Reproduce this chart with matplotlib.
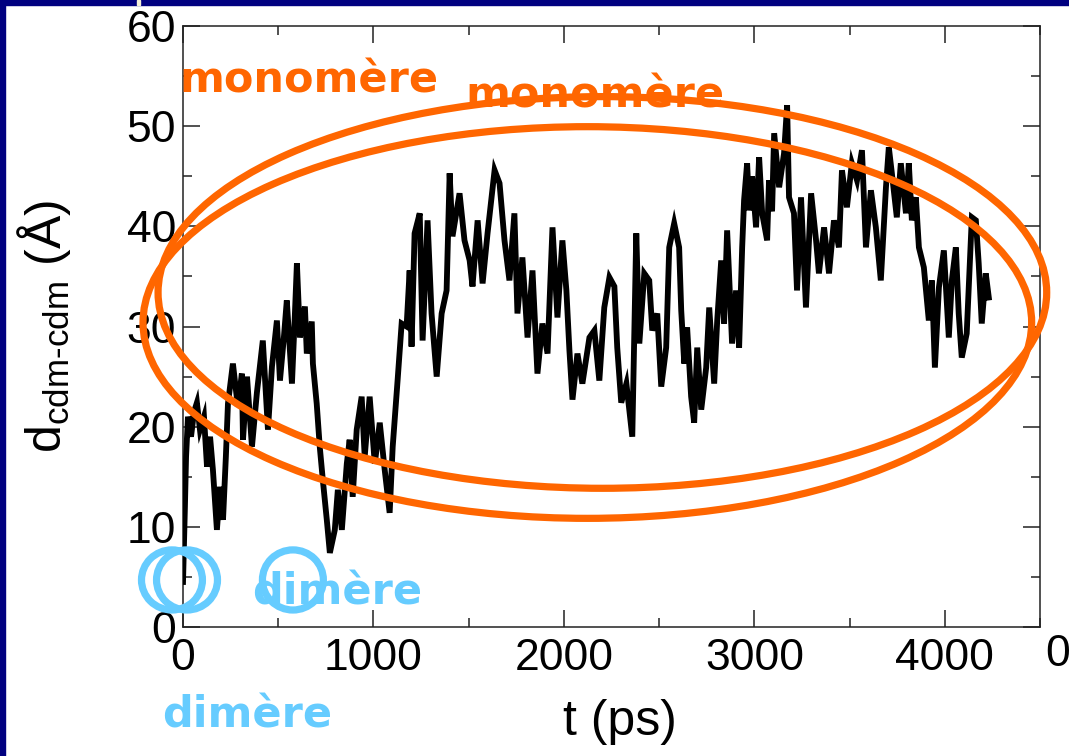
import matplotlib
matplotlib.use('Agg')
import matplotlib.pyplot as plt
from matplotlib.patches import Ellipse, Rectangle
from matplotlib.ticker import MultipleLocator

# centre-of-mass distance between the two chains along the trajectory
t_ps = [0, 10, 16, 26, 42, 58, 73, 89, 110, 126, 142, 157, 178, 194, 210, 225,
        236, 262, 288, 309, 315, 336, 362, 388, 419, 446, 467, 493, 509, 530,
        545, 572, 587, 598, 614, 640, 650, 676, 682, 702, 718, 734, 755, 771,
        797, 813, 834, 860, 875, 891, 912, 938, 954, 980, 1007, 1033, 1059,
        1085, 1101, 1127, 1148, 1174, 1190, 1200, 1216, 1243, 1258, 1284, 1305,
        1332, 1358, 1384, 1400, 1415, 1452, 1478, 1505, 1520, 1547, 1573, 1599,
        1620, 1636, 1662, 1688, 1714, 1740, 1756, 1782, 1809, 1835, 1861, 1887,
        1914, 1940, 1966, 1992, 2013, 2029, 2045, 2071, 2097, 2134, 2160, 2186,
        2212, 2239, 2265, 2280, 2301, 2328, 2343, 2359, 2380, 2396, 2422, 2448,
        2464, 2490, 2511, 2537, 2553, 2579, 2605, 2616, 2632, 2647, 2668, 2684,
        2700, 2721, 2747, 2763, 2789, 2805, 2826, 2841, 2857, 2883, 2904, 2920,
        2936, 2946, 2962, 2973, 2988, 3009, 3025, 3041, 3067, 3077, 3093, 3104,
        3130, 3156, 3172, 3182, 3208, 3224, 3245, 3271, 3298, 3324, 3339, 3366,
        3392, 3418, 3444, 3460, 3486, 3512, 3539, 3565, 3586, 3612, 3638, 3664,
        3691, 3706, 3722, 3748, 3769, 3796, 3811, 3827, 3848, 3864, 3890, 3916,
        3932, 3948, 3969, 3995, 4021, 4037, 4058, 4073, 4089, 4115, 4142, 4163,
        4178, 4194, 4215, 4231]
d_cdm = [4.5, 12.0, 17.0, 21.0, 19.0, 21.5, 22.4, 19.7, 21.0, 16.0, 19.0, 15.7,
         9.7, 14.0, 10.7, 17.0, 22.3, 26.3, 22.0, 25.3, 18.7, 25.0, 18.0, 23.4,
         28.6, 19.7, 26.0, 30.6, 24.6, 29.0, 32.6, 24.3, 31.0, 36.3, 28.9, 32.0,
         27.3, 30.5, 26.3, 22.3, 18.0, 14.7, 10.7, 7.4, 9.7, 13.7, 9.7, 16.3,
         18.7, 13.0, 19.7, 23.0, 17.0, 23.0, 16.3, 20.4, 15.7, 11.4, 18.0, 24.7,
         30.3, 30.0, 35.6, 28.0, 39.3, 41.3, 28.6, 40.6, 31.3, 25.0, 31.3, 33.6,
         45.3, 39.0, 43.3, 38.6, 36.6, 34.0, 40.6, 34.3, 39.3, 42.9, 45.6, 44.3,
         38.6, 34.6, 41.3, 31.3, 36.9, 28.9, 35.6, 25.3, 30.3, 27.3, 39.9, 30.9,
         38.6, 33.6, 27.6, 22.7, 27.3, 24.3, 28.9, 29.6, 24.6, 31.9, 34.9, 34.0,
         27.9, 22.4, 24.3, 21.7, 19.0, 39.3, 28.3, 35.3, 34.6, 29.6, 31.3, 24.0,
         27.9, 37.9, 40.3, 37.9, 31.6, 26.3, 29.9, 23.0, 20.4, 27.9, 21.7, 25.9,
         31.9, 24.3, 30.6, 36.6, 30.3, 39.6, 28.3, 33.6, 27.9, 37.9, 42.6, 46.3,
         41.6, 45.0, 39.9, 46.9, 41.3, 38.6, 44.6, 41.5, 49.3, 43.9, 47.3, 52.1,
         42.9, 41.3, 33.6, 42.9, 31.9, 43.3, 38.6, 35.3, 39.9, 35.3, 40.6, 37.9,
         45.6, 41.9, 46.3, 44.6, 47.6, 37.9, 43.6, 39.9, 34.6, 43.9, 47.9, 45.3,
         40.9, 46.3, 41.3, 46.3, 40.6, 42.9, 37.9, 35.9, 30.6, 34.6, 25.9, 33.9,
         37.6, 28.9, 34.6, 37.9, 31.3, 26.9, 29.3, 40.9, 40.6, 36.3, 30.3, 35.3,
         32.9]

x_ticks = [0, 1000, 2000, 3000, 4000]
y_ticks = [0, 10, 20, 30, 40, 50, 60]

ORANGE = '#FF6600'
SKY = '#66CCFF'
NAVY = '#000080'

plt.rcParams['font.family'] = ['Liberation Sans', 'DejaVu Sans']
plt.rcParams['mathtext.fontset'] = 'custom'
plt.rcParams['mathtext.rm'] = 'Liberation Sans'
plt.rcParams['mathtext.default'] = 'regular'

fig = plt.figure(figsize=(10.69, 7.56), dpi=100)
fig.patch.set_facecolor('white')
ax = fig.add_axes([0.1712, 0.1706, 0.8017, 0.795])

ax.plot(t_ps, d_cdm, color='black', lw=4.2, solid_joinstyle='miter', zorder=3)

ax.set_xlim(0, 4500)
ax.set_ylim(0, 60)
ax.set_xticks(x_ticks)
ax.set_yticks(y_ticks)
ax.xaxis.set_minor_locator(MultipleLocator(500))
ax.yaxis.set_minor_locator(MultipleLocator(5))
ax.tick_params(which='both', direction='in', top=True, right=True,
               width=1.1, color='#222222', labelcolor='black')
ax.tick_params(which='major', length=12.5, labelsize=32)
ax.tick_params(axis='x', which='major', pad=8)
ax.tick_params(axis='y', which='major', pad=5)
ax.tick_params(which='minor', length=6.5)
for sp in ax.spines.values():
    sp.set_linewidth(1.1)
    sp.set_color('#222222')

ax.set_xlabel('t (ps)', fontsize=36)
ax.xaxis.set_label_coords(0.51, -0.12)
ax.set_ylabel(r'd$_{cdm\text{-}cdm}$ (Å)', fontsize=36)
ax.yaxis.set_label_coords(-0.128, 0.5)

# regions marked on the trajectory
for cx, cy in [(2202, 33.4), (2123, 30.4)]:
    ax.add_patch(Ellipse((cx, cy), 4666, 39.1, fill=False, ec=ORANGE, lw=5.2,
                         clip_on=False, zorder=5))
for cx in [-58, 21, 577]:
    ax.add_patch(Ellipse((cx, 4.7), 320, 6.0, fill=False, ec=SKY, lw=5.2,
                         clip_on=False, zorder=5))

tkw = dict(fontsize=31, fontweight='bold', family='DejaVu Sans', va='baseline')
fig.text(0.168, 0.877, 'monomère', color=ORANGE, **tkw)
fig.text(0.435, 0.858, 'monomère', color=ORANGE, **tkw)
fig.text(0.236, 0.200, 'dimère', color=SKY, **tkw)
fig.text(0.152, 0.038, 'dimère', color=SKY, **tkw)

# label left over from the neighbouring panel
fig.text(1045 / 1069, 0.134, '0', fontsize=32, va='center', ha='left')

# slide frame
fig.add_artist(Rectangle((0, 1 - 5 / 756), 1, 5 / 756, transform=fig.transFigure,
                         color=NAVY, zorder=10))
fig.add_artist(Rectangle((0, 0), 5 / 1069, 1, transform=fig.transFigure,
                         color=NAVY, zorder=10))
fig.add_artist(Rectangle((137 / 1069, 1 - 5 / 756), 3 / 1069, 5 / 756,
                         transform=fig.transFigure, color='#F4F0D8', zorder=11))

fig.savefig('out.png', dpi=100)
